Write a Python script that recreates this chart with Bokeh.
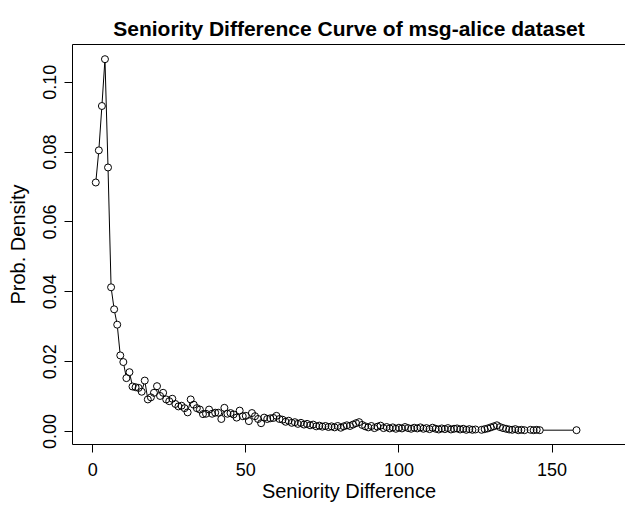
from bokeh.plotting import figure
from bokeh.models import Range1d, LinearAxis, FixedTicker, CustomJSTickFormatter
from bokeh.embed import file_html
from bokeh.resources import INLINE

# ---- data ----
seniority_diff = (list(range(1, 126)) + list(range(127, 142))
                  + [143, 144, 145, 146, 158])
prob_density = [
    0.0713, 0.0805, 0.0932, 0.1066, 0.0756, 0.0413, 0.0350, 0.0306,
    0.0218, 0.0199, 0.0153, 0.0170, 0.0129, 0.0127, 0.0125, 0.0114, 0.0146, 0.0092, 0.0098, 0.0111,
    0.0130, 0.0102, 0.0111, 0.0092, 0.0087, 0.0094, 0.0079, 0.0072, 0.0074, 0.0067,
    0.0055, 0.0092, 0.0077, 0.0067, 0.0063, 0.0050, 0.0051, 0.0063, 0.0051, 0.0054,
    0.0054, 0.0036, 0.0068, 0.0051, 0.0053, 0.0049, 0.0040, 0.0060, 0.0044, 0.0045,
    0.0030, 0.0053, 0.0044, 0.0036, 0.0024, 0.0040, 0.0036, 0.0038, 0.0039, 0.0045,
    0.0036, 0.0034, 0.0028, 0.0031, 0.0025, 0.0027, 0.0022, 0.0025, 0.0020, 0.0022,
    0.0018, 0.0020, 0.0015, 0.0017, 0.0014, 0.0016, 0.0013, 0.0015, 0.0012, 0.0016,
    0.0011, 0.0015, 0.0018, 0.0016, 0.0020, 0.0024, 0.0027, 0.0019, 0.0015, 0.0012,
    0.0016, 0.0010, 0.0014, 0.0017, 0.0010, 0.0013, 0.0009, 0.0012, 0.0008, 0.0011,
    0.0009, 0.0013, 0.0010, 0.0008, 0.0011, 0.0009, 0.0012, 0.0008, 0.0010, 0.0007,
    0.0011, 0.0008, 0.0006, 0.0009, 0.0007, 0.0010, 0.0006, 0.0008, 0.0009, 0.0006,
    0.0008, 0.0005, 0.0007, 0.0005, 0.0006,
    0.0005, 0.0007, 0.0009, 0.0012, 0.0015, 0.0018, 0.0013, 0.0010, 0.0008, 0.0006,
    0.0005, 0.0007, 0.0004, 0.0005, 0.0004,
    0.0005, 0.0004, 0.0005, 0.0004,
    0.0004,
]
x_ticks = [0, 50, 100, 150]
y_ticks = [0.0, 0.02, 0.04, 0.06, 0.08, 0.10]

FONT = "Liberation Sans"

p = figure(width=625, height=505, output_backend="svg", toolbar_location=None,
           x_range=Range1d(-6.6, 174.0), y_range=Range1d(-0.0037, 0.1108),
           min_border_left=72, min_border_right=0, min_border_top=44,
           min_border_bottom=61,
           title="Seniority Difference Curve of msg-alice dataset")
p.background_fill_color = "white"
p.border_fill_color = "white"
p.outline_line_color = None
p.grid.visible = False

p.title.align = "center"
p.title.text_font = FONT
p.title.text_font_size = "21px"
p.title.text_font_style = "bold"
p.title.text_color = "black"
p.title.offset = 3

xax = p.below[0]
yax = p.left[0]

for ax in (xax, yax):
    ax.axis_line_color = "black"
    ax.major_tick_line_color = "black"
    ax.major_tick_out = 8
    ax.major_tick_in = 0
    ax.minor_tick_line_color = None
    ax.major_label_text_font = FONT
    ax.major_label_text_font_size = "18px"
    ax.major_label_text_color = "black"
    ax.axis_label_text_font = FONT
    ax.axis_label_text_font_size = "20px"
    ax.axis_label_text_font_style = "normal"
    ax.axis_label_text_color = "black"

xax.ticker = FixedTicker(ticks=x_ticks)
xax.axis_label = "Seniority Difference"
xax.major_label_standoff = 10
xax.axis_label_standoff = 1

yax.ticker = FixedTicker(ticks=y_ticks)
yax.formatter = CustomJSTickFormatter(code="return tick.toFixed(2);")
yax.major_label_orientation = "vertical"
yax.axis_label = "Prob. Density"
yax.major_label_standoff = 8
yax.axis_label_standoff = 12

# top border line of the box
top = LinearAxis(ticker=FixedTicker(ticks=[]), major_tick_line_color=None,
                 minor_tick_line_color=None, major_label_text_font_size="0px",
                 axis_line_color="black", axis_line_width=1)
p.add_layout(top, "above")

p.line(seniority_diff, prob_density, line_color="black", line_width=1)
p.scatter(seniority_diff, prob_density, marker="circle", size=7,
          fill_color="white", line_color=None)
p.scatter(seniority_diff, prob_density, marker="circle", size=7,
          fill_color=None, line_color="black", line_width=1)

open("out.html", "w").write(file_html(p, INLINE))
